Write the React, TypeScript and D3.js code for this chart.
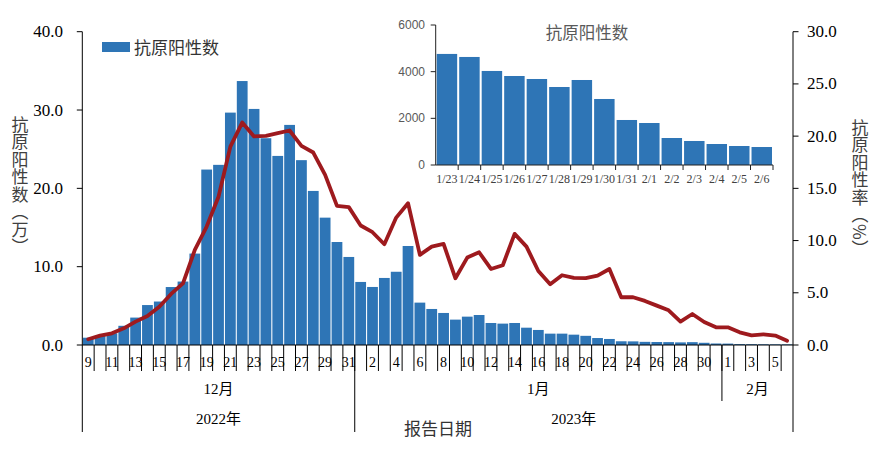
import React from "react";
import * as d3 from "d3";

// ---------- DATA ----------
const dates: string[] = [
  "12/9", "12/10", "12/11", "12/12", "12/13", "12/14", "12/15", "12/16", "12/17", "12/18",
  "12/19", "12/20", "12/21", "12/22", "12/23", "12/24", "12/25", "12/26", "12/27", "12/28",
  "12/29", "12/30", "12/31",
  "1/1", "1/2", "1/3", "1/4", "1/5", "1/6", "1/7", "1/8", "1/9", "1/10",
  "1/11", "1/12", "1/13", "1/14", "1/15", "1/16", "1/17", "1/18", "1/19", "1/20",
  "1/21", "1/22", "1/23", "1/24", "1/25", "1/26", "1/27", "1/28", "1/29", "1/30", "1/31",
  "2/1", "2/2", "2/3", "2/4", "2/5", "2/6",
];

// 抗原阳性数（万）
const positiveCount: number[] = [
  0.93, 1.15, 1.5, 2.45, 3.5, 5.1, 5.55, 7.4, 8.1, 11.67,
  22.4, 23.0, 29.67, 33.7, 30.14, 26.4, 24.14, 28.1, 23.6, 19.67,
  16.26, 13.15, 11.24,
  8.05, 7.41, 8.56, 9.35, 12.64, 5.41, 4.6, 4.09, 3.24, 3.62,
  3.83, 2.81, 2.73, 2.81, 2.21, 1.92, 1.45, 1.45, 1.32, 1.17,
  0.89, 0.77, 0.476, 0.463, 0.403, 0.381, 0.369, 0.334, 0.364, 0.283, 0.193,
  0.18, 0.116, 0.103, 0.09, 0.081, 0.077,
];

// 抗原阳性率（%）
const positiveRate: number[] = [
  0.55, 0.9, 1.12, 1.6, 2.24, 2.78, 3.67, 4.89, 5.9, 9.1,
  11.34, 14.2, 19.0, 21.3, 19.97, 20.03, 20.29, 20.54, 19.07, 18.43,
  16.29, 13.32, 13.2,
  11.44, 10.8, 9.65, 12.2, 13.58, 8.63, 9.42, 9.68, 6.39, 8.37,
  8.88, 7.28, 7.64, 10.64, 9.42, 7.09, 5.81, 6.68, 6.42, 6.4,
  6.65, 7.28, 4.57, 4.57, 4.22, 3.77, 3.32, 2.24, 2.97, 2.2, 1.69,
  1.69, 1.21, 0.93, 1.02, 0.9, 0.41,
];

const leftTicks: number[] = [0, 10, 20, 30, 40];
const rightTicks: number[] = [0, 5, 10, 15, 20, 25, 30];

const monthNames: string[] = ["12月", "1月", "2月"];
const monthKeys: string[] = ["12", "1", "2"];
const yearNames: string[] = ["2022年", "2023年"];
const yearMonthKeys: string[][] = [["12"], ["1", "2"]];

// Inset
const insetDates: string[] = [
  "1/23", "1/24", "1/25", "1/26", "1/27", "1/28", "1/29", "1/30", "1/31",
  "2/1", "2/2", "2/3", "2/4", "2/5", "2/6",
];
const insetValues: number[] = [
  4760, 4630, 4030, 3814, 3686, 3343, 3643, 2829, 1929, 1800, 1157, 1029, 900, 814, 771,
];
const insetTicks: number[] = [0, 2000, 4000, 6000];

const leftTitle = "抗原阳性数（万）";
const rightTitle = "抗原阳性率（%）";

// ---------- STYLE ----------
const BLUE = "#2E75B6";
const RED = "#9E1A1E";
const SERIF = "'Liberation Serif', 'Times New Roman', 'Noto Sans CJK SC', serif";
const CJK = "'Noto Sans CJK SC', sans-serif";
const SANS = "'Liberation Sans', Arial, sans-serif";

export default function App() {
  const W = 881;
  const H = 450;
  const left = 82.3;
  const right = 793;
  const top = 31.7;
  const base = 345;
  const bottom = 432;

  const idx = dates.map((_, i) => i);
  const x = d3.scaleBand<number>().domain(idx).range([left, right]).paddingInner(0.09).paddingOuter(0.045);
  const step = x.step();
  const boundary = (i: number) => left + i * step;
  const yL = d3.scaleLinear().domain([0, 40]).range([base, top]);
  const yR = d3.scaleLinear().domain([0, 30]).range([base, top]);

  const linePath = d3
    .line<number>()
    .x((_, i) => (x(i) as number) + x.bandwidth() / 2)
    .y((d) => yR(d))(positiveRate) as string;

  const month = (d: string) => d.split("/")[0];
  const day = (d: string) => d.split("/")[1];

  const monthRanges = monthKeys.map((k) => {
    const ids = idx.filter((i) => month(dates[i]) === k);
    return { start: ids[0], end: ids[ids.length - 1] + 1 };
  });
  const yearRanges = yearMonthKeys.map((ks) => {
    const ids = idx.filter((i) => ks.includes(month(dates[i])));
    return { start: ids[0], end: ids[ids.length - 1] + 1 };
  });

  // inset
  const iLeft = 435.7;
  const iRight = 773;
  const iTop = 25;
  const iBase = 165;
  const ix = d3.scaleBand<string>().domain(insetDates).range([iLeft, iRight]).paddingInner(0.09).paddingOuter(0.045);
  const iy = d3.scaleLinear().domain([0, 6000]).range([iBase, iTop]);

  const verticalStyle: React.CSSProperties = {
    writingMode: "vertical-rl" as any,
    letterSpacing: "0.5px",
  };

  return (
    <svg
      width={W}
      height={H}
      viewBox={`0 0 ${W} ${H}`}
      style={{ position: "absolute", left: 0, top: 0, display: "block", background: "#fff" }}
    >
      <rect x={0} y={0} width={W} height={H} fill="#fff" />

      {/* bars */}
      {positiveCount.map((v, i) => (
        <rect key={"b" + i} x={x(i)} y={yL(v)} width={x.bandwidth()} height={base - yL(v)} fill={BLUE} />
      ))}

      {/* line */}
      <path d={linePath} fill="none" stroke={RED} strokeWidth={3.8} strokeLinejoin="round" strokeLinecap="round" />

      {/* axes lines */}
      <line x1={left} x2={left} y1={top} y2={bottom} stroke="#000" strokeWidth={1} />
      <line x1={right} x2={right} y1={top} y2={bottom} stroke="#000" strokeWidth={1} />
      <line x1={left} x2={right} y1={base} y2={base} stroke="#000" strokeWidth={1} />

      {/* left ticks */}
      {leftTicks.map((t) => (
        <g key={"lt" + t}>
          <line x1={left - 5.5} x2={left} y1={yL(t)} y2={yL(t)} stroke="#000" />
          <text x={63} y={yL(t)} textAnchor="end" dominantBaseline="central" fontFamily={SERIF} fontSize={17} fill="#000">
            {t.toFixed(1)}
          </text>
        </g>
      ))}
      {/* right ticks */}
      {rightTicks.map((t) => (
        <g key={"rt" + t}>
          <line x1={right} x2={right + 5.5} y1={yR(t)} y2={yR(t)} stroke="#000" />
          <text x={807} y={yR(t)} textAnchor="start" dominantBaseline="central" fontFamily={SERIF} fontSize={17} fill="#000">
            {t.toFixed(1)}
          </text>
        </g>
      ))}

      {/* x category ticks */}
      {idx.slice(1).map((i) => (
        <line key={"xt" + i} x1={boundary(i)} x2={boundary(i)} y1={base} y2={371} stroke="#000" strokeWidth={1} />
      ))}
      {/* day labels */}
      {idx
        .filter((i) => i % 2 === 0)
        .map((i) => (
          <text
            key={"xl" + i}
            x={(x(i) as number) + x.bandwidth() / 2}
            y={362}
            textAnchor="middle"
            dominantBaseline="central"
            fontFamily={SERIF}
            fontSize={14}
            fill="#000"
          >
            {day(dates[i])}
          </text>
        ))}

      {/* month separators & labels */}
      {monthRanges.map((r, k) => (
        <g key={"m" + k}>
          {k > 0 && (
            <line
              x1={boundary(r.start)}
              x2={boundary(r.start)}
              y1={base}
              y2={yearRanges.some((yr) => yr.start === r.start) ? bottom : 401}
              stroke="#000"
            />
          )}
          <text
            x={(boundary(r.start) + boundary(r.end)) / 2}
            y={389}
            textAnchor="middle"
            dominantBaseline="central"
            fontFamily={SERIF}
            fontSize={15}
            fill="#000"
          >
            {monthNames[k]}
          </text>
        </g>
      ))}
      {yearRanges.map((r, k) => (
        <text
          key={"y" + k}
          x={(boundary(r.start) + boundary(r.end)) / 2}
          y={419}
          textAnchor="middle"
          dominantBaseline="central"
          fontFamily={SERIF}
          fontSize={15}
          fill="#000"
        >
          {yearNames[k]}
        </text>
      ))}

      {/* x axis title */}
      <text x={438} y={427} textAnchor="middle" dominantBaseline="central" fontFamily={CJK} fontSize={17} fill="#333">
        报告日期
      </text>

      {/* y axis titles (vertical) */}
      <text x={20} y={116} style={verticalStyle} fontFamily={CJK} fontSize={17} fill="#404040">
        {leftTitle}
      </text>
      <text x={860} y={119} style={verticalStyle} fontFamily={CJK} fontSize={17} fill="#404040">
        {rightTitle}
      </text>

      {/* legend */}
      <rect x={102} y={42} width={28} height={10} fill={BLUE} />
      <text x={134} y={46.5} dominantBaseline="central" fontFamily={CJK} fontSize={17} fill="#333">
        抗原阳性数
      </text>

      {/* inset chart */}
      <g>
        {insetValues.map((v, i) => (
          <rect
            key={"ib" + i}
            x={ix(insetDates[i])}
            y={iy(v)}
            width={ix.bandwidth()}
            height={iBase - iy(v)}
            fill={BLUE}
          />
        ))}
        <line x1={iLeft} x2={iLeft} y1={iTop} y2={iBase} stroke="#222" />
        <line x1={iLeft} x2={iRight} y1={iBase} y2={iBase} stroke="#222" />
        {insetTicks.map((t) => (
          <g key={"it" + t}>
            <line x1={iLeft - 5} x2={iLeft} y1={iy(t)} y2={iy(t)} stroke="#222" />
            <text x={425} y={iy(t)} textAnchor="end" dominantBaseline="central" fontFamily={SANS} fontSize={12} fill="#595959">
              {t}
            </text>
          </g>
        ))}
        {insetDates.map((d, i) => (
          <g key={"ix" + i}>
            <line x1={iLeft + (i + 1) * ix.step()} x2={iLeft + (i + 1) * ix.step()} y1={iBase} y2={iBase + 5} stroke="#222" />
            <text
              x={(ix(d) as number) + ix.bandwidth() / 2}
              y={178.5}
              textAnchor="middle"
              dominantBaseline="central"
              fontFamily={SERIF}
              fontSize={12}
              fill="#404040"
            >
              {d}
            </text>
          </g>
        ))}
        <text x={587} y={32} textAnchor="middle" dominantBaseline="central" fontFamily={CJK} fontSize={16.5} fill="#595959">
          抗原阳性数
        </text>
      </g>
    </svg>
  );
}
